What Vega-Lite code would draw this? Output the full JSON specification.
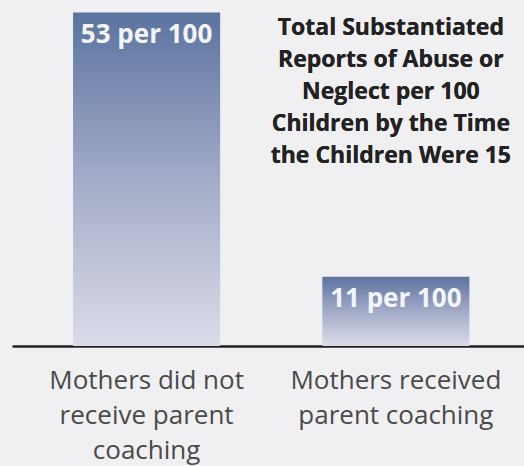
{
  "$schema": "https://vega.github.io/schema/vega-lite/v6.json",
  "width": 524,
  "height": 346,
  "autosize": {"type": "none"},
  "padding": {"left": 0, "top": 0, "right": 0, "bottom": 120},
  "background": "#f0f0f2",
  "config": {"view": {"stroke": null}},
  "data": {"values": [
    {"group": "Mothers did not receive parent coaching", "rate": 53, "label": "53 per 100"},
    {"group": "Mothers received parent coaching", "rate": 11, "label": "11 per 100"}
  ]},
  "encoding": {
    "x": {
      "field": "group", "type": "nominal", "sort": null,
      "scale": {"range": [12, 524], "paddingInner": 0.41, "paddingOuter": 0.232, "align": 0.528},
      "axis": {
        "title": null, "labelAngle": 0, "ticks": false,
        "domainColor": "#222222", "domainWidth": 2.5,
        "labelFont": "Open Sans", "labelFontSize": 26, "labelColor": "#4a4a4a",
        "labelBaseline": "top", "labelPadding": 21, "labelLineHeight": 35, "labelLimit": 0,
        "labelExpr": "datum.label == 'Mothers did not receive parent coaching' ? ['Mothers did not', 'receive parent', 'coaching'] : ['Mothers received', 'parent coaching']"
      }
    }
  },
  "layer": [
    {
      "mark": {
        "type": "bar",
        "color": {"gradient": "linear", "x1": 0, "y1": 0, "x2": 0, "y2": 1,
          "stops": [{"offset": 0, "color": "#5b73a0"}, {"offset": 0.5, "color": "#a3abc7"}, {"offset": 1, "color": "#dadce8"}]}
      },
      "encoding": {
        "y": {"field": "rate", "type": "quantitative", "scale": {"domain": [0, 54]}, "axis": null}
      }
    },
    {
      "mark": {"type": "text", "baseline": "top", "dy": 9, "font": "Open Sans", "fontWeight": "bold", "fontSize": 26, "color": "#f4f5fa"},
      "encoding": {
        "y": {"field": "rate", "type": "quantitative"},
        "text": {"field": "label"}
      }
    },
    {
      "mark": {"type": "text", "baseline": "top", "align": "center", "dx": -5, "dy": 11, "font": "Open Sans", "fontWeight": "bold", "fontSize": 23, "lineHeight": 32, "color": "#222222"},
      "encoding": {
        "x": {"datum": "Mothers received parent coaching"},
        "y": {"datum": 54},
        "text": {"value": ["Total Substantiated", "Reports of Abuse or", "Neglect per 100", "Children by the Time", "the Children Were 15"]}
      }
    }
  ]
}
